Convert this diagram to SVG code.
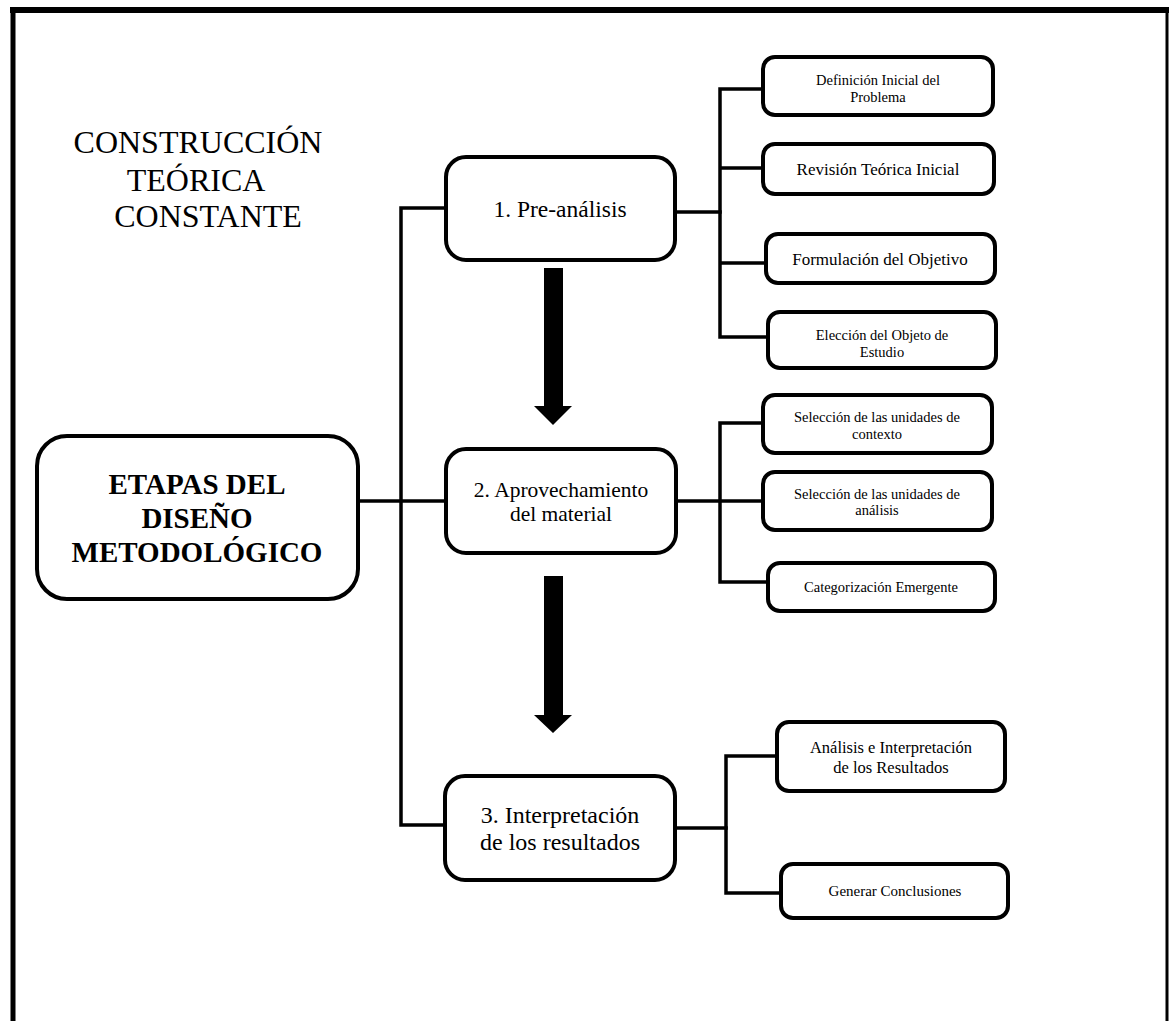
<svg xmlns="http://www.w3.org/2000/svg" width="1169" height="1021" viewBox="0 0 1169 1021">
<style>
text{font-family:"Liberation Serif","Times New Roman",serif;fill:#000;text-anchor:middle}
.box{fill:#fff;stroke:#000;stroke-width:4}
.con{fill:none;stroke:#000;stroke-width:3.5;stroke-linejoin:miter;stroke-linecap:square}
.sm{font-size:14.5px}
.md{font-size:17px}
</style>
<rect width="1169" height="1021" fill="#fff"/>
<g id="frame" fill="none" stroke="#000">
<line x1="13" y1="7" x2="13" y2="1021" stroke-width="5"/>
<line x1="10" y1="10" x2="1169" y2="10" stroke-width="6"/>
<line x1="1167" y1="10" x2="1167" y2="1021" stroke-width="3"/>
</g>
<g id="title" font-size="32">
<text x="198" y="153">CONSTRUCCIÓN</text>
<text x="196" y="191">TEÓRICA</text>
<text x="208" y="227">CONSTANTE</text>
</g>
<g id="connectors">
<path class="con" d="M358,501 H446"/>
<path class="con" d="M445,208 H401 V825 H445"/>
<path class="con" d="M675,212 H720"/>
<path class="con" d="M763,89 H720 V337 H768 M720,168 H763 M720,263 H766"/>
<path class="con" d="M676,501 H763"/>
<path class="con" d="M763,423 H720 V582 H768"/>
<path class="con" d="M675,828 H726"/>
<path class="con" d="M777,756 H726 V893 H781"/>
<path d="M544,268 H563 V406 H572 L553,425 L534,406 H544 Z" fill="#000"/>
<path d="M544,576 H563 V715 H572 L553,733 L534,715 H544 Z" fill="#000"/>
</g>
<g id="main">
<rect class="box" x="37" y="436" width="321" height="163" rx="30"/>
<text x="197" y="494" font-size="29" font-weight="bold">ETAPAS DEL</text>
<text x="197" y="528" font-size="29" font-weight="bold">DISEÑO</text>
<text x="197" y="562" font-size="29" font-weight="bold">METODOLÓGICO</text>
</g>
<g id="n1">
<rect class="box" x="446" y="157" width="229" height="103" rx="20"/>
<text x="560" y="217" font-size="23.5">1. Pre-análisis</text>
</g>
<g id="n2">
<rect class="box" x="446" y="449" width="230" height="104" rx="20"/>
<text x="561" y="497" font-size="21.5">2. Aprovechamiento</text>
<text x="561" y="521" font-size="21.5">del material</text>
</g>
<g id="n3">
<rect class="box" x="445" y="776" width="230" height="104" rx="20"/>
<text x="560" y="823" font-size="24">3. Interpretación</text>
<text x="560" y="850" font-size="24">de los resultados</text>
</g>
<g id="s1">
<rect class="box" x="763" y="57" width="230" height="58" rx="12"/>
<text class="sm" x="878" y="85">Definición Inicial del</text>
<text class="sm" x="878" y="102">Problema</text>
</g>
<g id="s2">
<rect class="box" x="763" y="144" width="231" height="50" rx="12"/>
<text class="md" x="878" y="175">Revisión Teórica Inicial</text>
</g>
<g id="s3">
<rect class="box" x="766" y="234" width="229" height="49" rx="12"/>
<text class="md" x="880" y="265">Formulación del Objetivo</text>
</g>
<g id="s4">
<rect class="box" x="768" y="312" width="228" height="56" rx="12"/>
<text class="sm" x="882" y="340">Elección del Objeto de</text>
<text class="sm" x="882" y="357">Estudio</text>
</g>
<g id="s5">
<rect class="box" x="763" y="395" width="229" height="58" rx="12"/>
<text class="sm" x="877" y="422">Selección de las unidades de</text>
<text class="sm" x="877" y="439">contexto</text>
</g>
<g id="s6">
<rect class="box" x="763" y="472" width="229" height="58" rx="12"/>
<text class="sm" x="877" y="499">Selección de las unidades de</text>
<text class="sm" x="877" y="515">análisis</text>
</g>
<g id="s7">
<rect class="box" x="768" y="563" width="227" height="48" rx="12"/>
<text class="sm" x="881" y="592" font-size="15">Categorización Emergente</text>
</g>
<g id="s8">
<rect class="box" x="777" y="722" width="228" height="69" rx="12"/>
<text x="891" y="753" font-size="16.5">Análisis e Interpretación</text>
<text x="891" y="773" font-size="16.5">de los Resultados</text>
</g>
<g id="s9">
<rect class="box" x="781" y="864" width="227" height="54" rx="12"/>
<text x="895" y="896" font-size="15">Generar Conclusiones</text>
</g>
</svg>
